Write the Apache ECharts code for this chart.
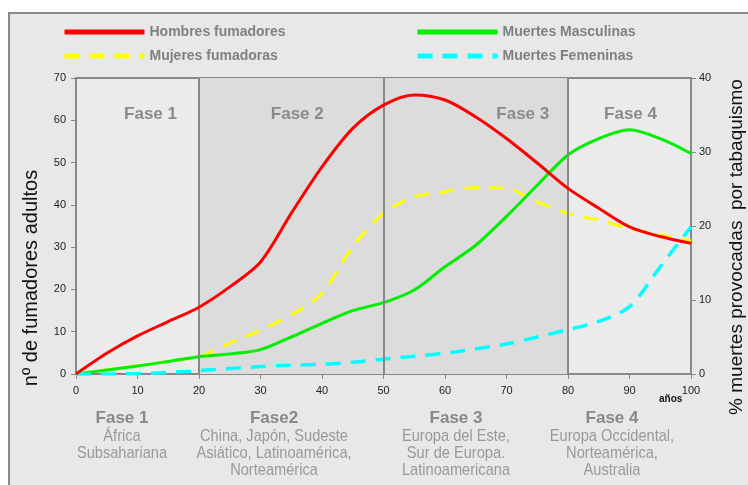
<!DOCTYPE html>
<html>
<head>
<meta charset="utf-8">
<script src="https://cdn.jsdelivr.net/npm/echarts@6/dist/echarts.min.js"></script>
<style>
  * { margin: 0; padding: 0; }
  body { background: #fff; }
  #main { width: 748px; height: 485px; }
</style>
</head>
<body>
<div id="main"></div>
<script>
// años (eje x)
var years = [0, 5, 10, 15, 20, 25, 30, 35, 40, 45, 50, 55, 60, 65, 70, 75, 80, 85, 90, 95, 100];
// nº de fumadores adultos (eje izquierdo)
var hombresFumadores = [0, 4.9, 9.0, 12.4, 15.8, 20.6, 26.5, 38.0, 49.0, 58.1, 63.6, 66.0, 64.8, 60.8, 55.7, 49.9, 43.9, 39.2, 34.8, 32.5, 30.9];
var mujeresFumadoras = [0, 1.0, 2.0, 3.0, 4.1, 7.3, 10.4, 14.0, 19.1, 30.1, 38.0, 41.9, 43.1, 44.1, 43.9, 40.7, 38.0, 36.4, 34.4, 32.9, 31.5];
// % muertes (eje derecho)
var muertesMasculinas = [0, 0.55, 1.08, 1.7, 2.34, 2.7, 3.3, 5.0, 6.85, 8.56, 9.64, 11.35, 14.5, 17.4, 21.3, 25.5, 29.6, 31.8, 33.0, 31.8, 29.8];
var muertesFemeninas = [0, 0, 0.05, 0.2, 0.45, 0.75, 1.0, 1.2, 1.3, 1.6, 2.0, 2.4, 2.8, 3.4, 4.05, 5.0, 6.0, 7.1, 9.1, 14.5, 19.9];
// fases
var fases = [
  { name: 'Fase 1', from: 0, to: 20, shaded: false, offset: 13 },
  { name: 'Fase 2', from: 20, to: 50, shaded: true, offset: 6 },
  { name: 'Fase 3', from: 50, to: 80, shaded: true, offset: 47 },
  { name: 'Fase 4', from: 80, to: 100, shaded: false, offset: 1 }
];
var faseCortes = [20, 50, 80];
var faseTextos = [
  { titulo: 'Fase 1', lineas: ['África', 'Subsahariana'], x: 122 },
  { titulo: 'Fase2', lineas: ['China, Japón, Sudeste', 'Asiático, Latinoamérica,', 'Norteamérica'], x: 274 },
  { titulo: 'Fase 3', lineas: ['Europa del Este,', 'Sur de Europa.', 'Latinoamericana'], x: 456 },
  { titulo: 'Fase 4', lineas: ['Europa Occidental,', 'Norteamérica,', 'Australia'], x: 612 }
];

function pares(vals) {
  return years.map(function (y, i) { return [y, vals[i]]; });
}

var chart = echarts.init(document.getElementById('main'));

var graficos = [
  { // fondo y marco
    type: 'rect', z: -10,
    shape: { x: 9, y: 13, width: 760, height: 490 },
    style: { fill: '#e8e8e8', stroke: '#8a8a8a', lineWidth: 2 }
  },
  {
    type: 'text', left: 659, top: 394,
    style: { text: 'años', font: 'bold 10px Arial, "Liberation Sans", sans-serif', fill: '#111' }
  }
];
faseTextos.forEach(function (f) {
  graficos.push({
    type: 'text', x: f.x, y: 418,
    style: { text: f.titulo, font: 'bold 17px Arial, "Liberation Sans", sans-serif', fill: '#888', align: 'center', verticalAlign: 'middle' }
  });
  graficos.push({
    type: 'text', x: f.x, y: 428, scaleX: 0.86,
    style: { text: f.lineas.join('\n'), font: '17px "Liberation Sans", Arial, sans-serif', lineHeight: 17, fill: '#999', align: 'center', verticalAlign: 'top' }
  });
});

chart.setOption({
  animation: false,
  backgroundColor: '#fff',
  textStyle: { fontFamily: 'Arial, "Liberation Sans", sans-serif' },
  graphic: graficos,
  legend: [
    {
      data: ['Hombres fumadores', 'Mujeres fumadoras'],
      orient: 'vertical', left: 57, top: 20, itemGap: 10,
      itemWidth: 80, itemHeight: 14,
      itemStyle: { opacity: 0 },
      lineStyle: { width: 5 },
      textStyle: { fontSize: 14, fontWeight: 'bold', color: '#808080' }
    },
    {
      data: ['Muertes Masculinas', 'Muertes Femeninas'],
      orient: 'vertical', left: 410, top: 20, itemGap: 10,
      itemWidth: 80, itemHeight: 14,
      itemStyle: { opacity: 0 },
      lineStyle: { width: 5 },
      textStyle: { fontSize: 14, fontWeight: 'bold', color: '#808080' }
    }
  ],
  grid: {
    left: 76, right: 57, top: 78, bottom: 111,
    outerBoundsMode: 'none',
    show: true, backgroundColor: '#ebebeb', borderColor: '#888', borderWidth: 2
  },
  xAxis: {
    type: 'value', min: 0, max: 100, interval: 10,
    axisLine: { lineStyle: { color: '#888', width: 2 } },
    axisTick: { show: true, length: 5, lineStyle: { color: '#888', width: 1 } },
    axisLabel: { color: '#222', fontSize: 11, margin: 11 },
    splitLine: { show: false }
  },
  yAxis: [
    {
      type: 'value', min: 0, max: 70, interval: 10,
      name: 'nº de fumadores adultos', nameLocation: 'middle', nameGap: 35,
      nameTextStyle: { fontSize: 20, color: '#111', padding: [0, 104, 0, 0] },
      axisLine: { show: true, lineStyle: { color: '#888', width: 2 } },
      axisTick: { show: true, length: 5, lineStyle: { color: '#888' } },
      axisLabel: { color: '#222', fontSize: 11, margin: 10 },
      splitLine: { show: false }
    },
    {
      type: 'value', min: 0, max: 40, interval: 10, position: 'right',
      name: '% muertes provocadas  por tabaquismo', nameLocation: 'middle', nameGap: 36,
      nameTextStyle: { fontSize: 19, color: '#111', padding: [0, 42, 0, 0] },
      axisLine: { show: true, lineStyle: { color: '#888', width: 2 } },
      axisTick: { show: true, length: 5, lineStyle: { color: '#888' } },
      axisLabel: { color: '#222', fontSize: 11, margin: 8 },
      splitLine: { show: false }
    }
  ],
  series: [
    {
      name: 'Hombres fumadores', type: 'line', yAxisIndex: 0, smooth: 0.3,
      symbol: 'none', z: 5,
      lineStyle: { color: '#ff0000', width: 3 }, itemStyle: { color: '#ff0000' },
      data: pares(hombresFumadores),
      markArea: {
        silent: true,
        data: fases.map(function (f) {
          return [{
            xAxis: f.from, name: f.name,
            itemStyle: { color: f.shaded ? '#dcdcdc' : 'rgba(0,0,0,0)' },
            label: { show: true, position: 'insideTop', distance: 28, offset: [f.offset, 0],
              formatter: '{b}', fontSize: 17, fontWeight: 'bold', color: '#8a8a8a' }
          }, { xAxis: f.to }];
        })
      },
      markLine: {
        silent: true, symbol: 'none', label: { show: false },
        lineStyle: { color: '#888', width: 2, type: 'solid' },
        data: faseCortes.map(function (c) { return { xAxis: c }; })
      }
    },
    {
      name: 'Mujeres fumadoras', type: 'line', yAxisIndex: 0, smooth: 0.3,
      symbol: 'none', z: 4,
      lineStyle: { color: '#ffff00', width: 3, type: [15, 10] }, itemStyle: { color: '#ffff00' },
      data: pares(mujeresFumadoras)
    },
    {
      name: 'Muertes Masculinas', type: 'line', yAxisIndex: 1, smooth: 0.3,
      symbol: 'none', z: 4,
      lineStyle: { color: '#00ee00', width: 3 }, itemStyle: { color: '#00ee00' },
      data: pares(muertesMasculinas)
    },
    {
      name: 'Muertes Femeninas', type: 'line', yAxisIndex: 1, smooth: 0.3,
      symbol: 'none', z: 4,
      lineStyle: { color: '#00ffff', width: 3.5, type: [15, 10] }, itemStyle: { color: '#00ffff' },
      data: pares(muertesFemeninas)
    }
  ]
});
</script>
</body>
</html>
